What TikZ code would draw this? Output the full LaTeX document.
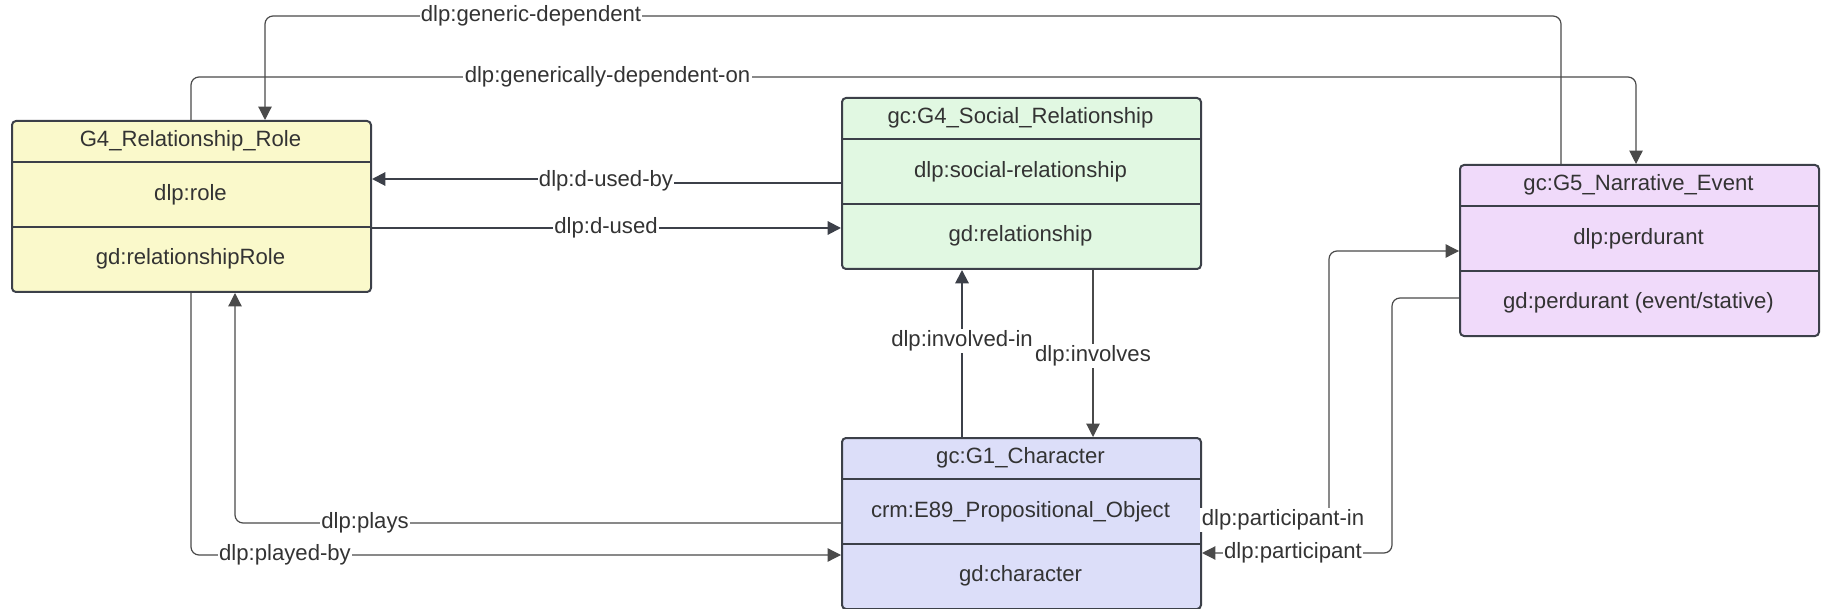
\documentclass[tikz,border=0pt]{standalone}
\usepackage{fontspec}
\setmainfont{Liberation Sans}
\usetikzlibrary{arrows.meta}

\definecolor{ink}{HTML}{333333}
\definecolor{edgec}{HTML}{3C4049}
\definecolor{wirec}{HTML}{4A4A4A}
\definecolor{roleY}{HTML}{FAF9CB}
\definecolor{relG}{HTML}{E1F8E2}
\definecolor{evtP}{HTML}{F0DAFA}
\definecolor{chrB}{HTML}{DCDEF9}

\begin{document}
\begin{tikzpicture}[x=0.75pt,y=-0.75pt,
  box/.style={draw=edgec, line width=1.5pt, rounded corners=3pt,
    minimum width=269.25pt, minimum height=128.25pt, anchor=north west, inner sep=0pt},
  txt/.style={text=ink, font=\fontsize{16.6}{19}\selectfont, inner sep=0pt},
  sepline/.style={draw=edgec, line width=1.5pt},
  wire/.style={draw=wirec, line width=0.9pt, rounded corners=6pt},
  heavy/.style={draw=edgec, line width=1.5pt, rounded corners=6pt},
  arr/.style={-{Triangle[length=10pt,width=10pt]}},
  lbl/.style={fill=white, text=ink, font=\fontsize{16.6}{19}\selectfont, inner sep=1pt}
]
\useasboundingbox (0,0) rectangle (1822,609);

% ---------- classes ----------
% G4_Relationship_Role
\node[box, fill=roleY] (role) at (11,120) {};
\draw[sepline] (11,162) -- (370,162);
\draw[sepline] (11,227) -- (370,227);
\node[txt] (roleH) at (190.5,141) {G4\_Relationship\_Role};
\node[txt] (roleA) at (190.5,194.5) {dlp:role};
\node[txt] (roleB) at (190.5,259) {gd:relationshipRole};

% gc:G4_Social_Relationship
\node[box, fill=relG] (rel) at (841,97) {};
\draw[sepline] (841,139) -- (1200,139);
\draw[sepline] (841,204) -- (1200,204);
\node[txt] (relH) at (1020.5,118) {gc:G4\_Social\_Relationship};
\node[txt] (relA) at (1020.5,171.5) {dlp:social-relationship};
\node[txt] (relB) at (1020.5,236) {gd:relationship};

% gc:G5_Narrative_Event
\node[box, fill=evtP] (event) at (1459,164) {};
\draw[sepline] (1459,206) -- (1818,206);
\draw[sepline] (1459,271) -- (1818,271);
\node[txt] (eventH) at (1638.5,185) {gc:G5\_Narrative\_Event};
\node[txt] (eventA) at (1638.5,238.5) {dlp:perdurant};
\node[txt] (eventB) at (1638.5,303) {gd:perdurant (event/stative)};

% gc:G1_Character
\node[box, fill=chrB] (chr) at (841,437) {};
\draw[sepline] (841,479) -- (1200,479);
\draw[sepline] (841,544) -- (1200,544);
\node[txt] (chrH) at (1020.5,458) {gc:G1\_Character};
\node[txt] (chrA) at (1020.5,511.5) {crm:E89\_Propositional\_Object};
\node[txt] (chrB) at (1020.5,576) {gd:character};

% ---------- routing points ----------
\coordinate (gdR) at (1561,16);
\coordinate (gdL) at (265,16);
\coordinate (gdoL) at (191,77);
\coordinate (gdoR) at (1636,77);
\coordinate (dub) at (606,183);
\coordinate (dub2) at (606,179);
\coordinate (du) at (606,228);
\coordinate (inv) at (962,341);
\coordinate (ivs) at (1093,356);
\coordinate (pl) at (235,523);
\coordinate (pb) at (191,555);
\coordinate (pi) at (1329,520);
\coordinate (pi2) at (1329,251);
\coordinate (pa) at (1392,298);
\coordinate (pa2) at (1392,553);

% ---------- connectors ----------
\draw[wire,arr] (event.north -| gdR) -- (gdR) -- (gdL) -- (role.north -| gdL);
\draw[wire,arr] (role.north -| gdoL) -- (gdoL) -- (gdoR) -- (event.north -| gdoR);
\draw[heavy,arr,rounded corners=0pt] (rel.west |- dub) -- (dub) -- (dub2) -- (role.east |- dub2);
\draw[heavy,arr] (role.east |- du) -- (rel.west |- du);
\draw[heavy,arr] (chr.north -| inv) -- (rel.south -| inv);
\draw[wire,arr] (rel.south -| ivs) -- (chr.north -| ivs);
\draw[wire,arr] (chr.west |- pl) -- (pl) -- (role.south -| pl);
\draw[wire,arr] (role.south -| pb) -- (pb) -- (chr.west |- pb);
\draw[wire,arr] (chr.east |- pi) -- (pi) -- (pi2) -- (event.west |- pi2);
\draw[wire,arr] (event.west |- pa) -- (pa) -- (pa2) -- (chr.east |- pa2);

% ---------- connector labels ----------
\node[lbl] (lgd) at (531,16) {dlp:generic-dependent};
\node[lbl] (lgdo) at (607.5,77) {dlp:generically-dependent-on};
\node[lbl] (ldub) at (606,181) {dlp:d-used-by};
\node[lbl] (ldu) at (606,228) {dlp:d-used};
\node[lbl] (linv) at (inv) {dlp:involved-in};
\node[lbl] (livs) at (ivs) {dlp:involves};
\node[lbl] (lpl) at (365,523) {dlp:plays};
\node[lbl] (lpb) at (285,555) {dlp:played-by};
\node[lbl] (lpi) at (1283,520) {dlp:participant-in};
\node[lbl] (lpa) at (1293,553) {dlp:participant};
\end{tikzpicture}
\end{document}
